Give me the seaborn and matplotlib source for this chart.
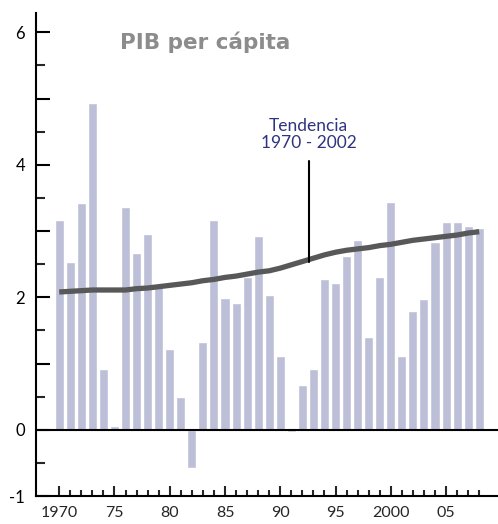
import numpy as np
import pandas as pd
import seaborn as sns
import matplotlib
matplotlib.use("Agg")
import matplotlib.pyplot as plt
from matplotlib.ticker import MultipleLocator

# Datos
years = list(range(1970, 2009))
pib = [3.16, 2.54, 3.42, 4.94, 0.91, 0.06, 3.37, 2.67, 2.95, 2.15,
       1.22, 0.49, -0.57, 1.33, 3.17, 1.99, 1.92, 2.30, 2.92, 2.04,
       1.12, -0.03, 0.68, 0.91, 2.27, 2.22, 2.63, 2.86, 1.40, 2.30,
       3.44, 1.12, 1.80, 1.98, 2.84, 3.13, 3.13, 3.08, 3.05]
tendencia = [2.08, 2.09, 2.10, 2.11, 2.11, 2.11, 2.11, 2.13, 2.14, 2.16,
             2.18, 2.20, 2.22, 2.25, 2.27, 2.30, 2.32, 2.35, 2.38, 2.40,
             2.44, 2.49, 2.54, 2.59, 2.64, 2.68, 2.71, 2.73, 2.75, 2.78,
             2.80, 2.83, 2.86, 2.88, 2.90, 2.92, 2.94, 2.97, 2.99]
xtick_pos = [1970, 1975, 1980, 1985, 1990, 1995, 2000, 2005]
xtick_labels = ['1970', '75', '80', '85', '90', '95', '2000', '05']
ytick_pos = list(range(-1, 7))
ytick_labels = ['-1', '0', '', '2', '', '4', '', '6']

df = pd.DataFrame({'year': years, 'pib': pib, 'tend': tendencia})

sns.set_style('white')
plt.rcParams['font.family'] = ['Lato', 'DejaVu Sans']

fig = plt.figure(figsize=(4.98, 5.24), dpi=100)
ax = fig.add_axes([0.0723, 0.0534, 0.9277, 0.9216])

sns.barplot(data=df, x='year', y='pib', native_scale=True, color='#bcbfd7',
            saturation=1, width=0.82, ax=ax)
sns.lineplot(data=df, x='year', y='tend', color='#585858', lw=3.8, ax=ax,
             solid_capstyle='butt')

ax.axhline(0, color='black', lw=1.5, zorder=3)

ax.set_xlim(1967.9, 2009.7)
ax.set_ylim(-1, 6.29)

# ejes
for s in ['top', 'right']:
    ax.spines[s].set_visible(False)
for s in ['left', 'bottom']:
    ax.spines[s].set_linewidth(1.5)
    ax.spines[s].set_color('black')

ax.set_yticks(ytick_pos)
ax.set_yticklabels(ytick_labels)
ax.yaxis.set_minor_locator(MultipleLocator(0.5))
ax.set_xticks(xtick_pos)
ax.set_xticklabels(xtick_labels)
ax.set_xticks(years, minor=True)
ax.tick_params(axis='y', which='major', direction='in', length=10, width=1.5,
               pad=8, labelsize=12, colors='black')
ax.tick_params(axis='y', which='minor', direction='in', length=6.5, width=1.5)
ax.tick_params(axis='x', which='major', direction='in', length=7.5, width=1.5,
               pad=7, labelsize=11.5)
ax.tick_params(axis='x', which='minor', direction='in', length=4.5, width=1.5)
ax.tick_params(left=True, bottom=True, which='both')
ax.set_xlabel('')
ax.set_ylabel('')

ax.text(1975.5, 5.85, 'PIB per cápita', fontsize=15.5, fontweight='bold',
        family='DejaVu Sans', color='#8c8c8c', va='center', ha='left')
ax.text(1992.56, 4.46, 'Tendencia\n1970 - 2002', fontsize=12.5, color='#2e3480',
        ha='center', va='center', linespacing=1.05)
ax.plot([1992.56, 1992.56], [2.54, 4.06], color='black', lw=1.5, zorder=2)

plt.savefig('out.png', dpi=100)
